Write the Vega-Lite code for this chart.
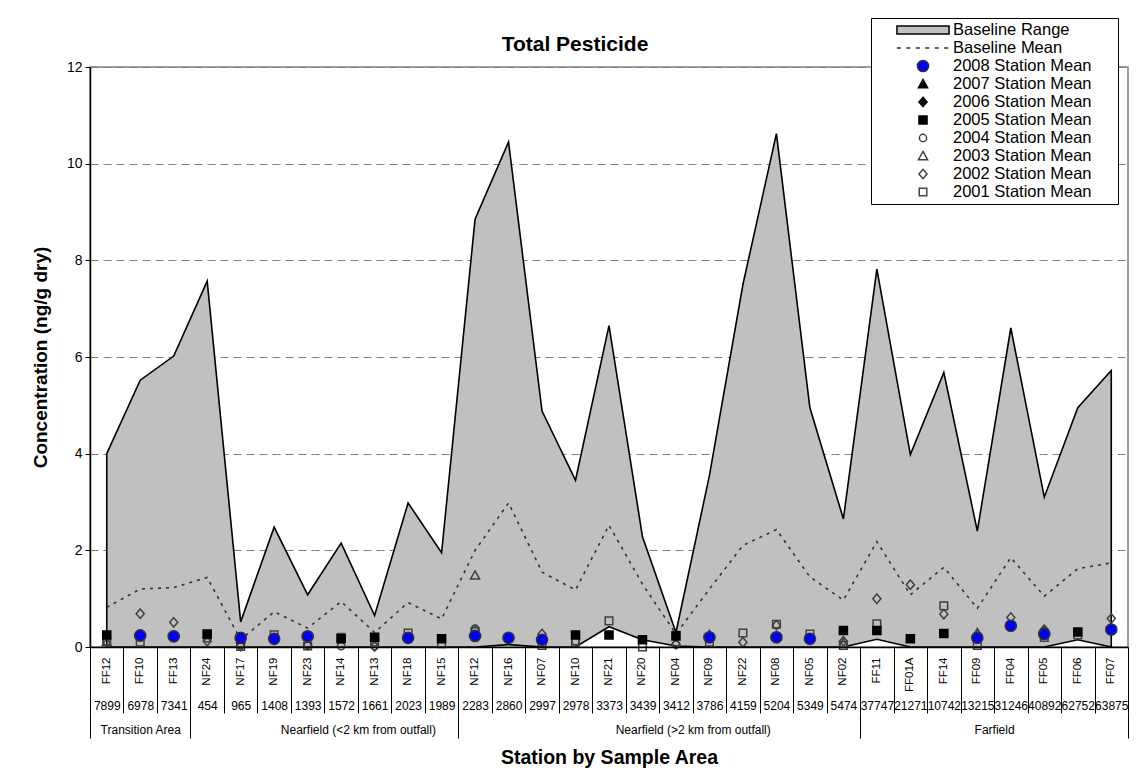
{
  "$schema": "https://vega.github.io/schema/vega-lite/v6.json",
  "width": 1038,
  "height": 580,
  "autosize": {"type": "none"},
  "padding": {"left": 90, "top": 67, "right": 15, "bottom": 127},
  "background": "white",
  "config": {
    "font": "Liberation Sans",
    "view": {"stroke": "#808080", "strokeWidth": 1.5}
  },
  "title": {
    "text": "Total Pesticide",
    "fontSize": 21,
    "fontWeight": "bold",
    "color": "black",
    "anchor": "middle",
    "dx": -34,
    "dy": 51,
    "offset": 14
  },
  "data": {
    "values": [
      {"key": "FF12|7899|Transition Area", "min": 0, "max": 4.0, "mean": 0.82, "2005 Station Mean": 0.25, "2004 Station Mean": 0.12, "2003 Station Mean": 0.1, "2001 Station Mean": 0.12},
      {"key": "FF10|6978|Transition Area", "min": 0, "max": 5.52, "mean": 1.2, "2008 Station Mean": 0.24, "2004 Station Mean": 0.2, "2002 Station Mean": 0.69, "2001 Station Mean": 0.1},
      {"key": "FF13|7341|Transition Area", "min": 0, "max": 6.02, "mean": 1.23, "2008 Station Mean": 0.22, "2004 Station Mean": 0.24, "2002 Station Mean": 0.51},
      {"key": "NF24|454|Nearfield (<2 km from outfall)", "min": 0, "max": 7.57, "mean": 1.44, "2005 Station Mean": 0.27, "2004 Station Mean": 0.18, "2002 Station Mean": 0.12, "2001 Station Mean": 0.25},
      {"key": "NF17|965|Nearfield (<2 km from outfall)", "min": 0, "max": 0.52, "mean": 0.15, "2008 Station Mean": 0.19, "2005 Station Mean": 0.17, "2004 Station Mean": 0.05, "2002 Station Mean": 0.02, "2001 Station Mean": 0.01},
      {"key": "NF19|1408|Nearfield (<2 km from outfall)", "min": 0, "max": 2.48, "mean": 0.73, "2008 Station Mean": 0.17, "2004 Station Mean": 0.2, "2001 Station Mean": 0.25},
      {"key": "NF23|1393|Nearfield (<2 km from outfall)", "min": 0, "max": 1.08, "mean": 0.39, "2008 Station Mean": 0.22, "2004 Station Mean": 0.05, "2002 Station Mean": 0.04, "2001 Station Mean": 0.02},
      {"key": "NF14|1572|Nearfield (<2 km from outfall)", "min": 0, "max": 2.15, "mean": 0.94, "2005 Station Mean": 0.17, "2004 Station Mean": 0.02, "2001 Station Mean": 0.2},
      {"key": "NF13|1661|Nearfield (<2 km from outfall)", "min": 0, "max": 0.65, "mean": 0.3, "2005 Station Mean": 0.2, "2004 Station Mean": 0.02, "2002 Station Mean": 0.01, "2001 Station Mean": 0.1},
      {"key": "NF18|2023|Nearfield (<2 km from outfall)", "min": 0, "max": 2.98, "mean": 0.92, "2008 Station Mean": 0.19, "2004 Station Mean": 0.22, "2001 Station Mean": 0.29},
      {"key": "NF15|1989|Nearfield (<2 km from outfall)", "min": 0, "max": 1.95, "mean": 0.58, "2005 Station Mean": 0.17, "2001 Station Mean": 0.07},
      {"key": "NF12|2283|Nearfield (>2 km from outfall)", "min": 0, "max": 8.85, "mean": 2.0, "2008 Station Mean": 0.23, "2004 Station Mean": 0.38, "2003 Station Mean": 1.48, "2002 Station Mean": 0.35, "2001 Station Mean": 0.32},
      {"key": "NF16|2860|Nearfield (>2 km from outfall)", "min": 0.05, "max": 10.45, "mean": 2.98, "2008 Station Mean": 0.19, "2004 Station Mean": 0.2},
      {"key": "NF07|2997|Nearfield (>2 km from outfall)", "min": 0, "max": 4.88, "mean": 1.55, "2008 Station Mean": 0.15, "2002 Station Mean": 0.27, "2001 Station Mean": 0.03},
      {"key": "NF10|2978|Nearfield (>2 km from outfall)", "min": 0, "max": 3.45, "mean": 1.18, "2005 Station Mean": 0.25, "2004 Station Mean": 0.12, "2001 Station Mean": 0.1},
      {"key": "NF21|3373|Nearfield (>2 km from outfall)", "min": 0.42, "max": 6.65, "mean": 2.52, "2005 Station Mean": 0.25, "2001 Station Mean": 0.54},
      {"key": "NF20|3439|Nearfield (>2 km from outfall)", "min": 0.15, "max": 2.28, "mean": 1.3, "2005 Station Mean": 0.15, "2001 Station Mean": 0.0},
      {"key": "NF04|3412|Nearfield (>2 km from outfall)", "min": 0.02, "max": 0.3, "mean": 0.27, "2005 Station Mean": 0.23, "2004 Station Mean": 0.05, "2002 Station Mean": 0.06},
      {"key": "NF09|3786|Nearfield (>2 km from outfall)", "min": 0, "max": 3.55, "mean": 1.2, "2008 Station Mean": 0.2, "2003 Station Mean": 0.25, "2001 Station Mean": 0.1},
      {"key": "NF22|4159|Nearfield (>2 km from outfall)", "min": 0, "max": 7.5, "mean": 2.1, "2002 Station Mean": 0.1, "2001 Station Mean": 0.29},
      {"key": "NF08|5204|Nearfield (>2 km from outfall)", "min": 0, "max": 10.62, "mean": 2.43, "2008 Station Mean": 0.2, "2002 Station Mean": 0.45, "2001 Station Mean": 0.47},
      {"key": "NF05|5349|Nearfield (>2 km from outfall)", "min": 0, "max": 4.95, "mean": 1.45, "2008 Station Mean": 0.17, "2001 Station Mean": 0.27},
      {"key": "NF02|5474|Nearfield (>2 km from outfall)", "min": 0, "max": 2.65, "mean": 0.97, "2005 Station Mean": 0.34, "2003 Station Mean": 0.08, "2002 Station Mean": 0.12, "2001 Station Mean": 0.03},
      {"key": "FF11|37747|Farfield", "min": 0.16, "max": 7.82, "mean": 2.18, "2005 Station Mean": 0.34, "2002 Station Mean": 1.0, "2001 Station Mean": 0.48},
      {"key": "FF01A|21271|Farfield", "min": 0, "max": 3.98, "mean": 1.08, "2005 Station Mean": 0.17, "2002 Station Mean": 1.29},
      {"key": "FF14|10742|Farfield", "min": 0, "max": 5.68, "mean": 1.65, "2005 Station Mean": 0.28, "2002 Station Mean": 0.68, "2001 Station Mean": 0.85},
      {"key": "FF09|13215|Farfield", "min": 0, "max": 2.4, "mean": 0.8, "2008 Station Mean": 0.19, "2003 Station Mean": 0.29, "2002 Station Mean": 0.26, "2001 Station Mean": 0.03},
      {"key": "FF04|31246|Farfield", "min": 0, "max": 6.6, "mean": 1.85, "2008 Station Mean": 0.44, "2002 Station Mean": 0.61},
      {"key": "FF05|40892|Farfield", "min": 0, "max": 3.1, "mean": 1.05, "2008 Station Mean": 0.27, "2003 Station Mean": 0.33, "2002 Station Mean": 0.36, "2001 Station Mean": 0.2},
      {"key": "FF06|62752|Farfield", "min": 0.15, "max": 4.95, "mean": 1.62, "2005 Station Mean": 0.31, "2001 Station Mean": 0.25},
      {"key": "FF07|63875|Farfield", "min": 0, "max": 5.72, "mean": 1.74, "2008 Station Mean": 0.36, "2002 Station Mean": 0.59}
    ]
  },
  "layer": [
    {
      "mark": {"type": "area", "fill": "#c0c0c0", "stroke": "black", "strokeWidth": 1.6, "opacity": 1, "fillOpacity": 1},
      "encoding": {
        "x": {
          "field": "key", "type": "nominal", "sort": null,
          "scale": {"type": "band", "paddingInner": 0, "paddingOuter": 0},
          "axis": {
            "orient": "bottom", "title": null, "domain": true, "domainColor": "black", "domainWidth": 1.5,
            "ticks": false, "grid": false, "labelAngle": 270, "labelAlign": "right", "labelBaseline": "middle",
            "labelExpr": "split(datum.value, '|')[0]", "labelFontSize": 11.5, "labelColor": "black",
            "labelPadding": 10, "labelOverlap": false, "zindex": 1
          }
        },
        "y": {
          "field": "max", "type": "quantitative", "title": "Concentration (ng/g dry)",
          "scale": {"domain": [0, 12], "nice": false, "zero": true},
          "axis": {
            "title": "Concentration (ng/g dry)", "titleFontSize": 19, "titleFontWeight": "bold", "titleColor": "black",
            "titlePadding": 16, "values": [0, 2, 4, 6, 8, 10, 12], "labelFontSize": 14, "labelColor": "black",
            "domainColor": "black", "domainWidth": 1.5, "tickColor": "black", "tickSize": 5, "labelPadding": 3,
            "grid": true, "gridColor": "#808080", "gridDash": [8, 5], "gridWidth": 1
          }
        },
        "y2": {"field": "min"}
      }
    },
    {
      "mark": {"type": "line", "stroke": "#333333", "strokeWidth": 1.6, "strokeDash": [3, 5]},
      "encoding": {
        "x": {
          "field": "key", "type": "nominal", "sort": null,
          "axis": {
            "orient": "bottom", "title": null, "domain": false, "grid": false,
            "ticks": true, "tickBand": "extent", "tickSize": 66, "tickColor": "black", "tickWidth": 1,
            "labelAngle": 0, "labelAlign": "center", "labelBaseline": "top",
            "labelExpr": "split(datum.value, '|')[1]", "labelFontSize": 12, "labelColor": "black",
            "labelPadding": -13, "labelOverlap": false
          }
        },
        "y": {"field": "mean", "type": "quantitative", "title": "Concentration (ng/g dry)"}
      }
    },
    {
      "transform": [
        {"fold": ["2001 Station Mean", "2002 Station Mean", "2003 Station Mean", "2004 Station Mean", "2005 Station Mean", "2006 Station Mean", "2007 Station Mean", "2008 Station Mean"], "as": ["series", "value"]},
        {"filter": "isValid(datum.value)"}
      ],
      "mark": {"type": "point", "filled": true, "size": 272, "strokeWidth": 1.5, "opacity": 1},
      "encoding": {
        "x": {
          "field": "key", "type": "nominal", "sort": null,
          "axis": {
            "orient": "bottom", "offset": 66, "domain": false, "grid": false,
            "title": "Station by Sample Area", "titleFontSize": 19.5, "titleFontWeight": "bold", "titleColor": "black", "titlePadding": 10,
            "ticks": true, "tickBand": "extent", "tickSize": 25, "tickColor": "black", "tickWidth": 1,
            "tickOpacity": {"condition": {"test": "!datum.value || indexof(['FF13', 'NF15', 'NF02', 'FF07'], split(datum.value, '|')[0]) >= 0", "value": 1}, "value": 0},
            "labelAngle": 0, "labelAlign": "center", "labelBaseline": "top",
            "labelExpr": "indexof(['FF10', 'NF14', 'NF04', 'FF09'], split(datum.value, '|')[0]) >= 0 ? split(datum.value, '|')[2] : ''",
            "labelOffset": {"condition": {"test": "split(datum.value, '|')[0] == 'FF10'", "value": 0}, "value": 16.75},
            "labelFontSize": 12, "labelColor": "black", "labelPadding": -14, "labelOverlap": false
          }
        },
        "y": {"field": "value", "type": "quantitative", "title": "Concentration (ng/g dry)"},
        "shape": {
          "field": "series", "type": "nominal",
          "scale": {
            "domain": ["Baseline Range", "Baseline Mean", "2008 Station Mean", "2007 Station Mean", "2006 Station Mean", "2005 Station Mean", "2004 Station Mean", "2003 Station Mean", "2002 Station Mean", "2001 Station Mean"],
            "range": [
              "M-3.16,-0.49H3.16V0.49H-3.16Z",
              "M-3.16,0H-2.67M-2.02,0H-1.53M-0.87,0H-0.38M0.27,0H0.76M1.42,0H1.91M2.56,0H3.05",
              "M0.68,0A0.68,0.68,0,1,1,-0.68,0A0.68,0.68,0,1,1,0.68,0Z",
              "M0,-0.55L0.55,0.44L-0.55,0.44Z",
              "M0,-0.57L0.49,0L0,0.57L-0.49,0Z",
              "M-0.49,-0.49H0.49V0.49H-0.49Z",
              "M0.44,0A0.44,0.44,0,1,1,-0.44,0A0.44,0.44,0,1,1,0.44,0Z",
              "M0,-0.55L0.55,0.44L-0.55,0.44Z",
              "M0,-0.57L0.49,0L0,0.57L-0.49,0Z",
              "M-0.46,-0.46H0.46V0.46H-0.46Z"
            ]
          },
          "legend": {
            "title": ".", "titleOrient": "right", "titleColor": "white", "titleFontSize": 16, "titlePadding": 18,
            "orient": "none", "legendX": 781, "legendY": -49,
            "fillColor": "white", "strokeColor": "black", "padding": 3,
            "labelFontSize": 16.5, "labelColor": "black",
            "symbolSize": 272, "symbolStrokeWidth": 1.5, "rowPadding": 0,
            "symbolOffset": 40, "labelOffset": 21
          }
        },
        "fill": {
          "field": "series", "type": "nominal",
          "scale": {
            "domain": ["Baseline Range", "Baseline Mean", "2008 Station Mean", "2007 Station Mean", "2006 Station Mean", "2005 Station Mean", "2004 Station Mean", "2003 Station Mean", "2002 Station Mean", "2001 Station Mean"],
            "range": ["#c0c0c0", "transparent", "#0000ff", "#000000", "#000000", "#000000", "transparent", "transparent", "transparent", "transparent"]
          }
        },
        "stroke": {
          "field": "series", "type": "nominal",
          "scale": {
            "domain": ["Baseline Range", "Baseline Mean", "2008 Station Mean", "2007 Station Mean", "2006 Station Mean", "2005 Station Mean", "2004 Station Mean", "2003 Station Mean", "2002 Station Mean", "2001 Station Mean"],
            "range": ["#000000", "#333333", "#333333", "#000000", "#000000", "#000000", "#404040", "#404040", "#404040", "#404040"]
          }
        }
      }
    }
  ],
  "resolve": {"axis": {"x": "independent"}}
}
